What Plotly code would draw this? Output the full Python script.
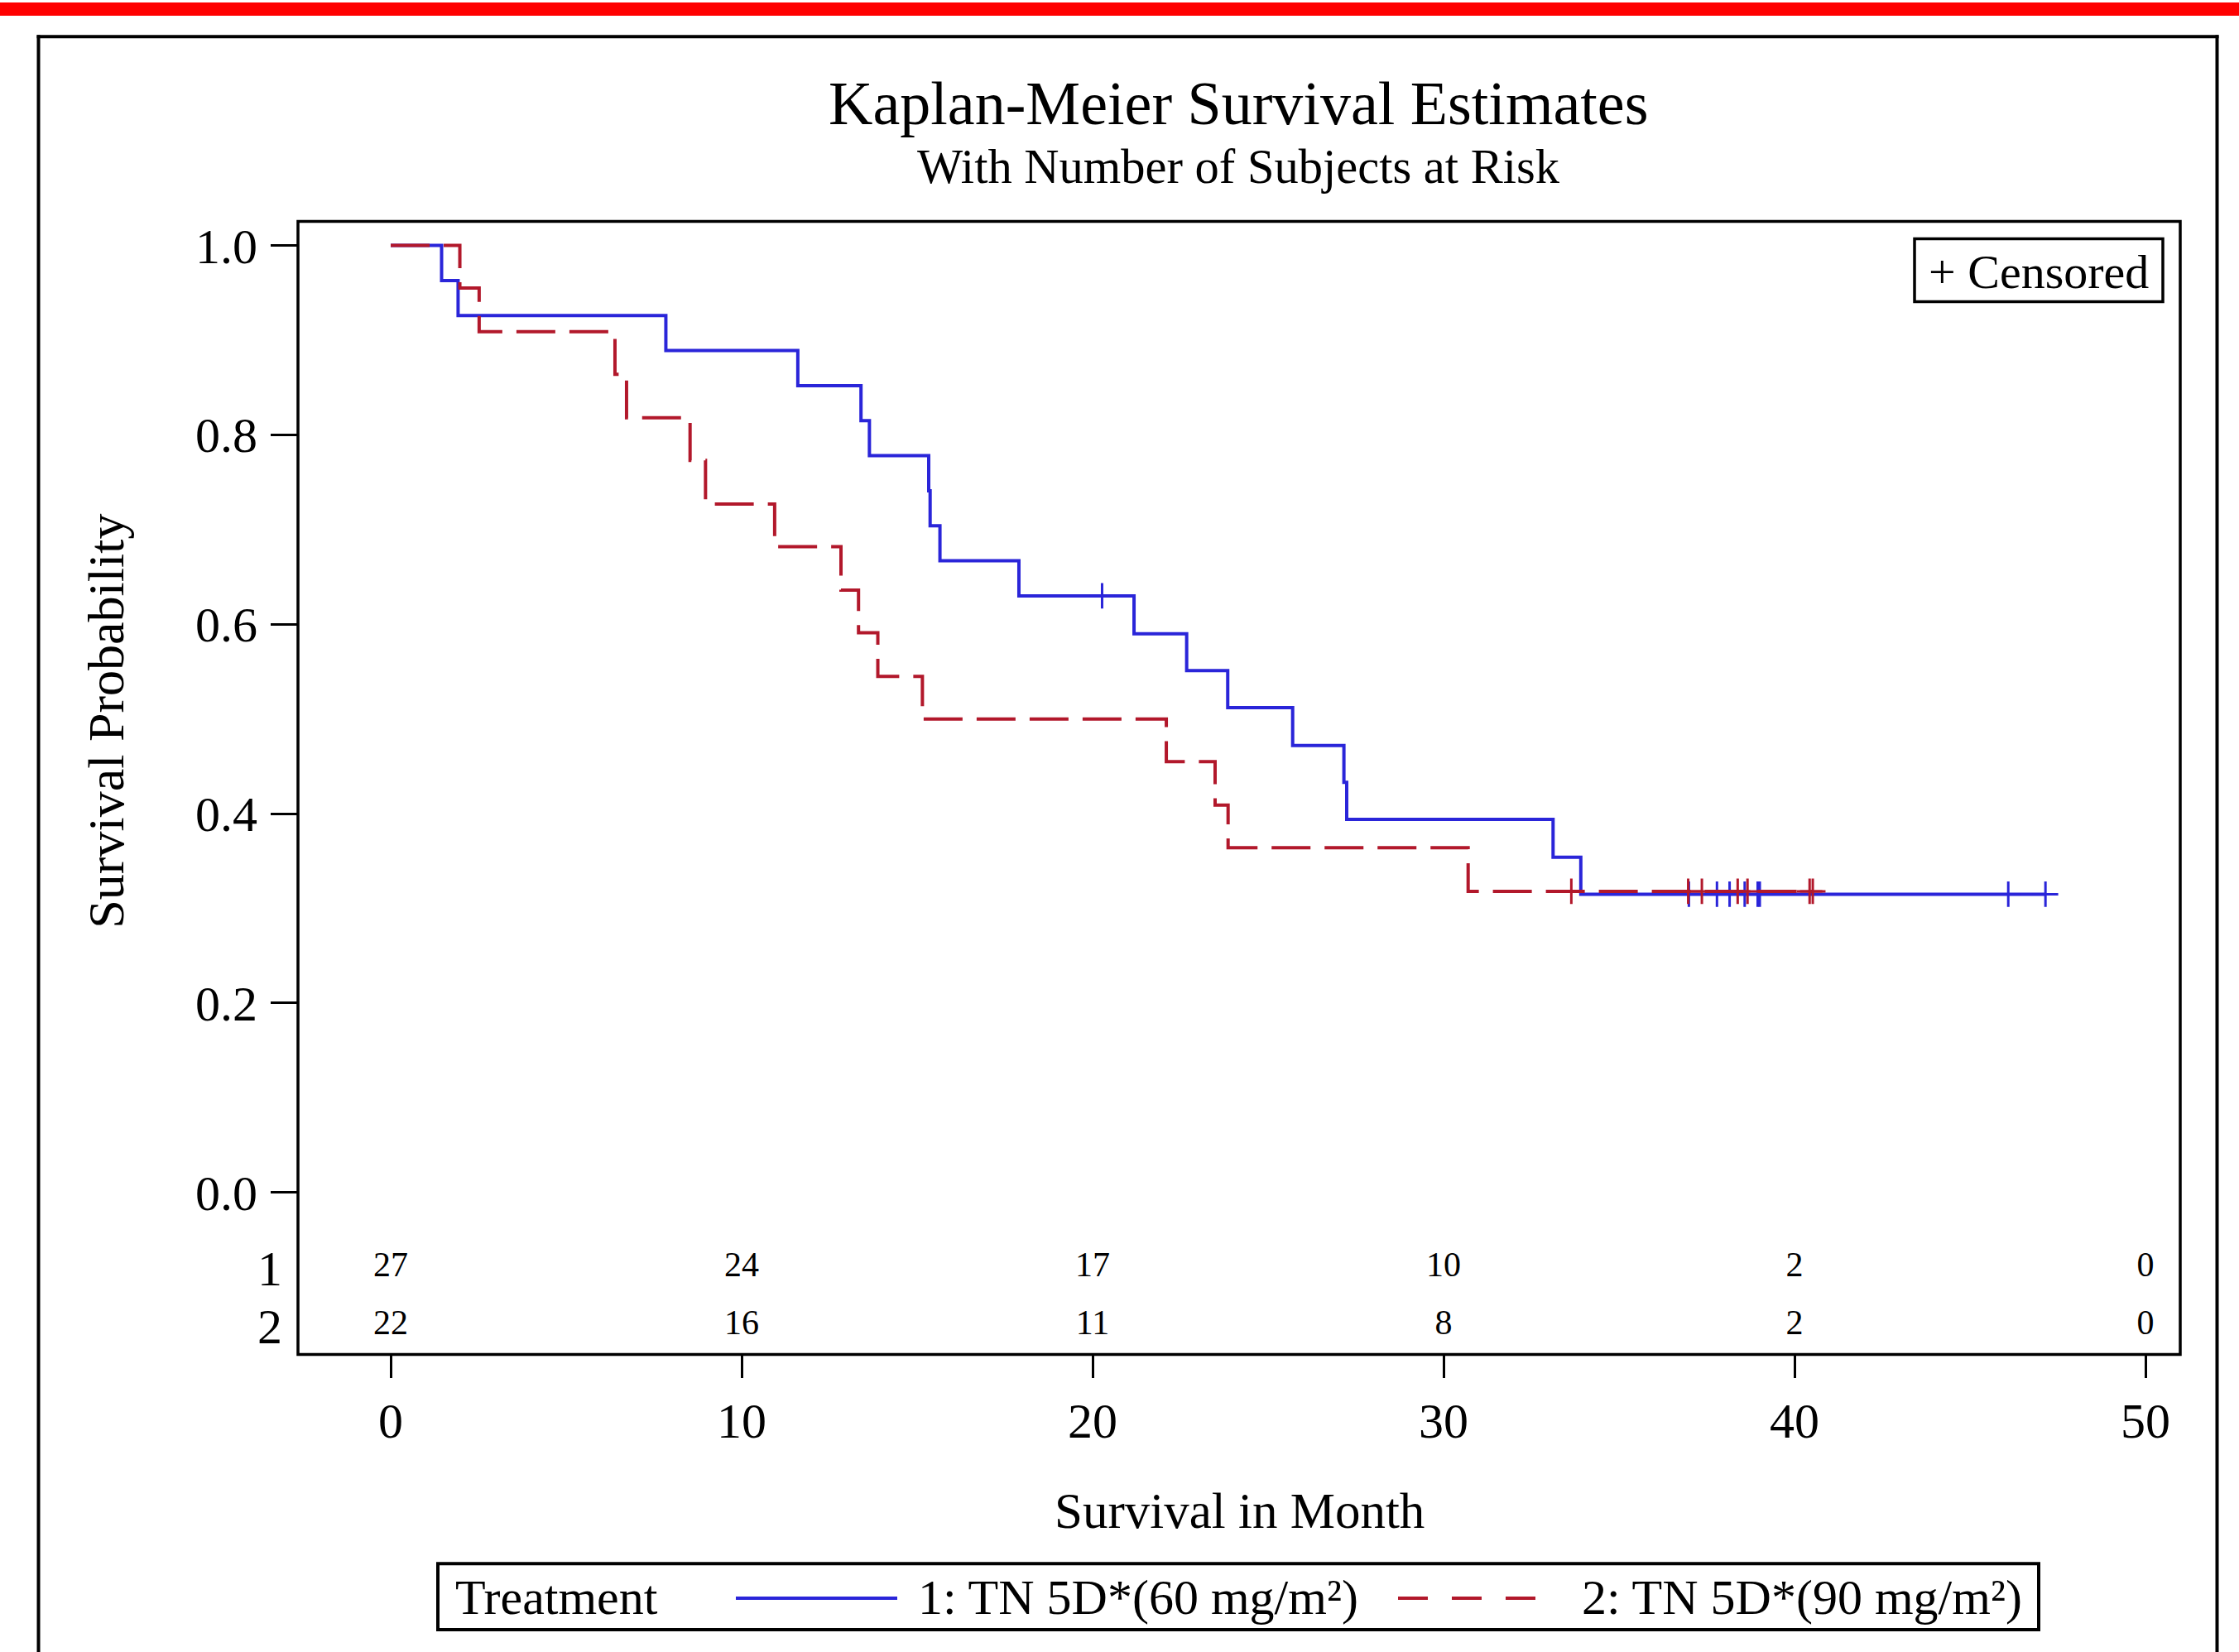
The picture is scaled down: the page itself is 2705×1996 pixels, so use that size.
import plotly.graph_objects as go

W, H = 2705, 1996
FONT = "Liberation Serif"
BLUE = "#2A25D9"
RED = "#B2182B"

# ---------------- data ----------------
g1_name = "1: TN 5D*(60 mg/m²)"
g1_time = [0, 1.45, 1.92, 7.84, 11.6, 13.4, 13.64, 15.33, 15.37, 15.65, 17.9,
           21.18, 22.68, 23.85, 25.7, 27.16, 27.24, 33.12, 33.91, 47.15]
g1_surv = [1.0, 0.963, 0.926, 0.889, 0.852, 0.815, 0.778, 0.741, 0.704, 0.667, 0.630,
           0.590, 0.551, 0.512, 0.472, 0.433, 0.394, 0.354, 0.315, 0.315]
g1_cens_time = [20.27, 36.99, 37.79, 38.15, 38.58, 38.95, 39.01, 46.09, 47.15]
g1_cens_surv = [0.630, 0.315, 0.315, 0.315, 0.315, 0.315, 0.315, 0.315, 0.315]

g2_name = "2: TN 5D*(90 mg/m²)"
g2_time = [0, 1.97, 2.52, 6.39, 6.72, 8.53, 8.97, 10.94, 12.83, 13.33, 13.88,
           15.15, 22.1, 23.49, 23.86, 30.7, 40.52]
g2_surv = [1.0, 0.955, 0.909, 0.864, 0.818, 0.773, 0.727, 0.682, 0.636, 0.591, 0.545,
           0.500, 0.455, 0.409, 0.364, 0.318, 0.318]
g2_cens_time = [33.64, 36.97, 37.36, 38.38, 38.66, 40.43, 40.52]
g2_cens_surv = [0.318, 0.318, 0.318, 0.318, 0.318, 0.318, 0.318]

risk_rows = ["1", "2"]
risk_row_pos = [1, 2]
risk_times = [0, 10, 20, 30, 40, 50]
risk_g1 = [27, 24, 17, 10, 2, 0]
risk_g2 = [22, 16, 11, 8, 2, 0]

x_ticks = [0, 10, 20, 30, 40, 50]
y_ticks = [0.0, 0.2, 0.4, 0.6, 0.8, 1.0]

title_text = "Kaplan-Meier Survival Estimates"
subtitle_text = "With Number of Subjects at Risk"
x_title = "Survival in Month"
y_title = "Survival Probability"
legend_title = "Treatment"
censored_text = "+ Censored"


def px(x):
    return x / W


def py(y):
    return 1 - y / H


fig = go.Figure()

fig.add_trace(go.Scatter(x=g1_time, y=g1_surv, mode="lines", line_shape="hv",
                         line=dict(color=BLUE, width=4), name=g1_name,
                         xaxis="x", yaxis="y"))
fig.add_trace(go.Scatter(x=g1_cens_time, y=g1_cens_surv, mode="markers",
                         marker=dict(symbol="cross-thin", size=22, color=BLUE,
                                     line=dict(color=BLUE, width=3)),
                         xaxis="x", yaxis="y"))
fig.add_trace(go.Scatter(x=g2_time, y=g2_surv, mode="lines", line_shape="hv",
                         line=dict(color=RED, width=4, dash="47px,17px"), name=g2_name,
                         xaxis="x", yaxis="y"))
fig.add_trace(go.Scatter(x=g2_cens_time, y=g2_cens_surv, mode="markers",
                         marker=dict(symbol="cross-thin", size=22, color=RED,
                                     line=dict(color=RED, width=3)),
                         xaxis="x", yaxis="y"))

# number at risk table
fig.add_trace(go.Scatter(x=risk_times, y=[risk_row_pos[0]] * len(risk_times), mode="text",
                         text=[str(v) for v in risk_g1], textposition="middle center",
                         textfont=dict(family=FONT, size=42, color="black"),
                         xaxis="x", yaxis="y2"))
fig.add_trace(go.Scatter(x=risk_times, y=[risk_row_pos[1]] * len(risk_times), mode="text",
                         text=[str(v) for v in risk_g2], textposition="middle center",
                         textfont=dict(family=FONT, size=42, color="black"),
                         xaxis="x", yaxis="y2"))

axis_common = dict(showgrid=False, zeroline=False, showline=False,
                   tickcolor="black", tickwidth=3,
                   tickfont=dict(family=FONT, size=60, color="black"))

fig.update_layout(
    width=W, height=H,
    margin=dict(l=0, r=0, t=0, b=0),
    paper_bgcolor="white", plot_bgcolor="white",
    showlegend=False,
    font=dict(family=FONT, color="black", size=60),
    xaxis=dict(domain=[px(360), px(2634)], range=[-2.642, 50.99], anchor="y2",
               tickvals=x_ticks, ticks="outside", ticklen=27, ticklabelstandoff=0,
               **axis_common),
    yaxis=dict(domain=[py(1475), py(265)], range=[-0.03054, 1.02531], anchor="x",
               tickvals=y_ticks, tickformat=".1f", ticks="outside", ticklen=32,
               ticklabelstandoff=4, **axis_common),
    yaxis2=dict(domain=[py(1636), py(1475)], anchor="x",
                tickvals=risk_row_pos, ticktext=risk_rows, range=[2.5, 0.2],
                ticks="", ticklabelstandoff=18, **axis_common),
)

shapes = []
# top red band
shapes.append(dict(type="rect", xref="paper", yref="paper", x0=0, x1=1,
                   y0=py(16), y1=1, fillcolor="#FF0000", line=dict(width=0), layer="below"))
# outer border (top, left, right)
for (x0, y0, x1, y1) in [(44.5, 41.3, 2680.5, 41.3), (46.5, 39.3, 46.5, 2000), (2678.5, 39.3, 2678.5, 2000)]:
    shapes.append(dict(type="line", xref="paper", yref="paper", x0=px(x0), x1=px(x1),
                       y0=py(y0), y1=py(y1), line=dict(color="black", width=4)))
# plot frame
shapes.append(dict(type="rect", xref="paper", yref="paper", x0=px(360), x1=px(2634),
                   y0=py(1636), y1=py(265), line=dict(color="black", width=3.5),
                   fillcolor="rgba(0,0,0,0)", layer="above"))
# censored legend box
shapes.append(dict(type="rect", xref="paper", yref="paper", x0=px(2313), x1=px(2613),
                   y0=py(362), y1=py(286), line=dict(color="black", width=3.5),
                   fillcolor="white", layer="above"))
# treatment legend box
shapes.append(dict(type="rect", xref="paper", yref="paper", x0=px(529), x1=px(2463),
                   y0=py(1969), y1=py(1889), line=dict(color="black", width=4),
                   fillcolor="white", layer="above"))
# legend samples
shapes.append(dict(type="line", xref="paper", yref="paper", x0=px(889), x1=px(1084),
                   y0=py(1931), y1=py(1931), line=dict(color=BLUE, width=4)))
shapes.append(dict(type="line", xref="paper", yref="paper", x0=px(1689), x1=px(1880),
                   y0=py(1931), y1=py(1931), line=dict(color=RED, width=4, dash="36px,29px")))
fig.update_layout(shapes=shapes)

ann = []
ann.append(dict(text=title_text, x=px(1496), y=py(122), xanchor="center", yanchor="middle",
                font=dict(family=FONT, size=74, color="black")))
ann.append(dict(text=subtitle_text, x=px(1496), y=py(199), xanchor="center", yanchor="middle",
                font=dict(family=FONT, size=58.5, color="black")))
ann.append(dict(text=x_title, x=px(1497), y=py(1825), xanchor="center", yanchor="middle",
                font=dict(family=FONT, size=61, color="black")))
ann.append(dict(text=y_title, x=px(128), y=py(870), xanchor="center", yanchor="middle",
                textangle=-90, font=dict(family=FONT, size=62, color="black")))
ann.append(dict(text=censored_text, x=px(2463), y=py(326), xanchor="center", yanchor="middle",
                font=dict(family=FONT, size=58, color="black")))
ann.append(dict(text=legend_title, x=px(548), y=py(1930), xanchor="left", yanchor="middle",
                font=dict(family=FONT, size=60, color="black")))
ann.append(dict(text=g1_name, x=px(1107), y=py(1930), xanchor="left", yanchor="middle",
                font=dict(family=FONT, size=60, color="black")))
ann.append(dict(text=g2_name, x=px(1909), y=py(1930), xanchor="left", yanchor="middle",
                font=dict(family=FONT, size=60, color="black")))
for a in ann:
    a.update(xref="paper", yref="paper", showarrow=False)
fig.update_layout(annotations=ann)

fig.write_html("out.html",
               config={"displayModeBar": False},
               post_script="document.body.style.margin='0';document.body.style.overflow='hidden';")
